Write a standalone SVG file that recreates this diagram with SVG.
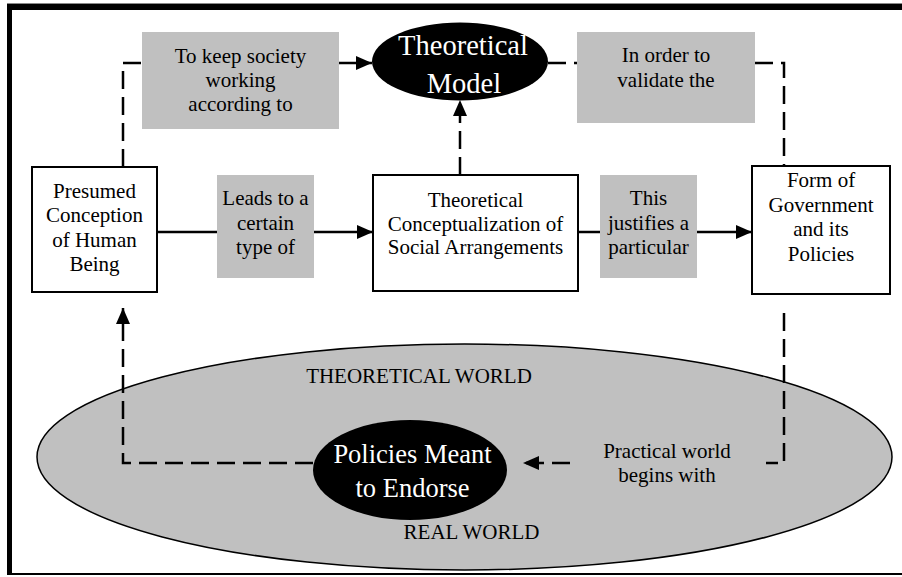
<svg xmlns="http://www.w3.org/2000/svg" width="902" height="577" viewBox="0 0 902 577" font-family="'Liberation Serif', Tinos, 'Times New Roman', 'DejaVu Serif', serif">
<defs>
<style>
text{font-family:'Liberation Serif', Tinos, 'Times New Roman', 'DejaVu Serif', serif;text-anchor:middle;fill:#000}
.t{font-size:21px}
.w{fill:#fff}
.box{fill:#fff;stroke:#000;stroke-width:2}
.lab{fill:#c0c0c0}
.ln{fill:none;stroke:#000;stroke-width:2.5}
.d{stroke-dasharray:18,8}
</style>
<marker id="ah" markerUnits="userSpaceOnUse" markerWidth="16" markerHeight="14" refX="16" refY="7" orient="auto">
<path d="M0,0 L16,7 L0,14 z" fill="#000"/>
</marker>
</defs>
<rect width="902" height="577" fill="#fff"/>
<g id="frame">
<rect x="7" y="3" width="895" height="1" fill="#888"/>
<rect x="7" y="4" width="895" height="6" fill="#000"/>
<rect x="7" y="4" width="5" height="571" fill="#000"/>
<rect x="7" y="573" width="895" height="2" fill="#000"/>
</g>
<g id="world">
<ellipse cx="464.5" cy="457" rx="427.5" ry="113" fill="#c0c0c0" stroke="#000" stroke-width="1.5"/>
<text class="t" x="419" y="383">THEORETICAL WORLD</text>
<text class="t" x="471.5" y="539">REAL WORLD</text>
</g>
<g id="connectors">
<path class="ln" d="M157,232 H373" marker-end="url(#ah)"/>
<path class="ln" d="M578,232 H752" marker-end="url(#ah)"/>
<path class="ln d" d="M123,167 V63 H142"/>
<path class="ln" d="M339,63 H372" marker-end="url(#ah)"/>
<path class="ln d" d="M548,63 H577"/>
<path class="ln d" d="M755,63 H784 V166"/>
<path class="ln d" d="M460,175 V100" marker-end="url(#ah)"/>
<path class="ln d" d="M313,463 H123 V308" marker-end="url(#ah)"/>
<path class="ln d" d="M784,313 V463 H523" marker-end="url(#ah)"/>
</g>
<g id="practical">
<rect x="570" y="436" width="196" height="54" fill="#c0c0c0"/>
<text class="t" x="667" y="458">Practical world</text>
<text class="t" x="667" y="482">begins with</text>
</g>
<g id="human">
<rect class="box" x="32" y="167" width="125" height="125"/>
<text class="t" x="94.5" y="197.5">Presumed</text>
<text class="t" x="94.5" y="222">Conception</text>
<text class="t" x="94.5" y="246.5">of Human</text>
<text class="t" x="94.5" y="271">Being</text>
</g>
<g id="leads">
<rect class="lab" x="217" y="175" width="97" height="103"/>
<text class="t" x="265.5" y="205">Leads to a</text>
<text class="t" x="265.5" y="229.5">certain</text>
<text class="t" x="265.5" y="254">type of</text>
</g>
<g id="conceptualization">
<rect class="box" x="373" y="175" width="205" height="116"/>
<text class="t" x="475.5" y="207">Theoretical</text>
<text class="t" x="475.5" y="230.5">Conceptualization of</text>
<text class="t" x="475.5" y="254">Social Arrangements</text>
</g>
<g id="justifies">
<rect class="lab" x="600" y="175" width="97" height="103"/>
<text class="t" x="648.5" y="205">This</text>
<text class="t" x="648.5" y="229.5">justifies a</text>
<text class="t" x="648.5" y="254">particular</text>
</g>
<g id="government">
<rect class="box" x="752" y="166" width="138" height="128"/>
<text class="t" x="821" y="187">Form of</text>
<text class="t" x="821" y="211.5">Government</text>
<text class="t" x="821" y="236">and its</text>
<text class="t" x="821" y="260.5">Policies</text>
</g>
<g id="keep">
<rect class="lab" x="142" y="32" width="197" height="97"/>
<text class="t" x="240.5" y="63">To keep society</text>
<text class="t" x="240.5" y="87">working</text>
<text class="t" x="240.5" y="111">according to</text>
</g>
<g id="model">
<ellipse cx="460" cy="61.5" rx="88" ry="39" fill="#000"/>
<text class="w" x="463" y="55" style="font-size:28.5px">Theoretical</text>
<text class="w" x="464" y="93" style="font-size:28.5px">Model</text>
</g>
<g id="validate">
<rect class="lab" x="577" y="32" width="178" height="91"/>
<text class="t" x="666" y="62">In order to</text>
<text class="t" x="666" y="87">validate the</text>
</g>
<g id="policies">
<ellipse cx="410" cy="470" rx="97" ry="50" fill="#000"/>
<text class="w" x="412.5" y="463" style="font-size:26.5px">Policies Meant</text>
<text class="w" x="412.5" y="497" style="font-size:26.5px">to Endorse</text>
</g>
</svg>
